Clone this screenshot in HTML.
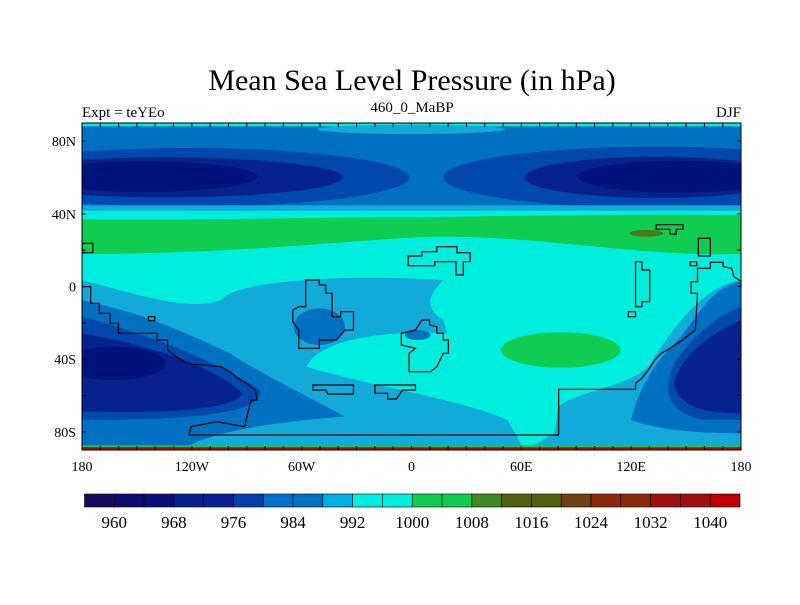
<!DOCTYPE html>
<html><head><meta charset="utf-8"><style>
body{margin:0;background:#fff}
svg text{font-family:"Liberation Serif",serif;fill:#000}
</style></head><body>
<svg id="chart" width="800" height="600" viewBox="0 0 800 600" xmlns="http://www.w3.org/2000/svg">
<text x="412" y="90" font-size="30" text-anchor="middle">Mean Sea Level Pressure (in hPa)</text>
<text x="82" y="117" font-size="15">Expt = teYEo</text>
<text x="412" y="112" font-size="15" text-anchor="middle">460_0_MaBP</text>
<text x="741" y="117" font-size="15" text-anchor="end">DJF</text>
<defs><clipPath id="mc"><rect x="5" y="68" width="1543" height="982"/></clipPath></defs>
<g transform="translate(80,100) scale(0.42735,0.33333)">
<g clip-path="url(#mc)">
<rect x="5" y="68" width="1543" height="982" fill="#0070c0"/>
<rect x="5" y="68" width="1543" height="11" fill="#00eedd"/>
<ellipse cx="775" cy="88" rx="220" ry="14" fill="#11aad9"/>
<ellipse cx="250" cy="232" rx="520" ry="88" fill="#0048ab"/>
<ellipse cx="1350" cy="232" rx="500" ry="92" fill="#0048ab"/>
<ellipse cx="200" cy="232" rx="415" ry="60" fill="#06228f"/>
<ellipse cx="1350" cy="232" rx="310" ry="62" fill="#06228f"/>
<ellipse cx="150" cy="230" rx="265" ry="46" fill="#00137c"/>
<ellipse cx="1400" cy="230" rx="235" ry="48" fill="#00137c"/>
<rect x="5" y="316" width="1543" height="34" fill="#11aad9"/>
<rect x="5" y="332" width="1543" height="720" fill="#00eedd"/>
<path d="M5,358 C300,362 600,350 800,352 C1100,345 1300,343 1548,345 L1548,462 C1300,470 1100,410 850,410 C700,410 400,462 5,462 Z" fill="#10cc50"/>
<ellipse cx="1325" cy="400" rx="40" ry="10" fill="#4a7a1a"/>
<path d="M5,540 C100,570 250,640 330,600 C360,545 600,520 850,540 C820,580 800,620 850,660 L860,700 C700,690 560,720 530,800 C650,850 900,900 1000,960 L1040,1050 L5,1050 Z" fill="#11aad9"/>
<path d="M1548,540 C1450,560 1380,700 1330,800 C1280,860 1150,880 1120,920 L1110,1000 C1080,1020 1060,1040 1040,1050 L1548,1050 Z" fill="#11aad9"/>
<path d="M5,600 C150,640 250,700 350,760 C450,840 550,900 620,950 C500,960 300,990 240,1050 L5,1050 Z" fill="#0070c0"/>
<path d="M1548,545 C1480,560 1450,640 1400,720 C1330,800 1300,900 1290,960 C1350,990 1450,1000 1548,1000 Z" fill="#0070c0"/>
<path d="M5,650 C150,700 300,770 420,870 C430,920 350,960 5,960 Z" fill="#0048ab"/>
<path d="M1548,620 C1480,650 1420,730 1390,790 C1360,880 1380,940 1460,960 L1548,960 Z" fill="#0048ab"/>
<path d="M5,700 C100,720 300,780 380,880 C360,930 200,940 5,935 Z" fill="#06228f"/>
<path d="M1548,660 C1470,700 1400,780 1390,850 C1400,920 1460,940 1548,940 Z" fill="#06228f"/>
<ellipse cx="80" cy="790" rx="120" ry="50" fill="#00137c"/>
<ellipse cx="560" cy="680" rx="60" ry="55" fill="#0070c0"/>
<ellipse cx="790" cy="705" rx="30" ry="15" fill="#0070c0"/>
<ellipse cx="1125" cy="750" rx="140" ry="53" fill="#10cc50"/>
<rect x="5" y="1036" width="1543" height="6" fill="#10cc50"/>
<rect x="5" y="1042" width="1543" height="10" fill="#c00000"/>
</g>
<g fill="none" stroke="#000" stroke-width="1.2" vector-effect="non-scaling-stroke">
<path vector-effect="non-scaling-stroke" d="M5,560 L25,560 L25,610 L45,610 L45,640 L70,640 L70,670 L90,670 L90,700 L180,700 L180,720 L205,720 L205,750 L225,770 L250,790 L330,800 L350,815 L370,835 L390,850 L410,870 L415,900 L400,900 L385,980 L320,965 L260,980 L255,1005 L1120,1005 L1120,868 L1300,868 L1300,850 L1315,835 L1330,810 L1345,780 L1360,760 L1380,745 L1410,720 L1440,690 L1445,580 L1430,580 L1430,545 L1445,545 L1445,505 L1475,505 L1475,487 L1505,487 L1505,500 L1525,505 L1530,530 L1548,545"/>
<path vector-effect="non-scaling-stroke" d="M528,540 L560,540 L560,555 L575,555 L575,580 L590,580 L590,650 L610,650 L610,635 L640,635 L640,690 L620,690 L600,720 L560,720 L560,745 L512,745 L512,690 L498,665 L498,630 L512,620 L528,620 Z"/>
<path vector-effect="non-scaling-stroke" d="M800,660 L818,660 L818,675 L835,680 L835,700 L850,700 L850,720 L862,720 L862,760 L850,760 L835,800 L820,815 L770,815 L770,760 L785,745 L752,735 L752,700 L785,690 Z"/>
<path vector-effect="non-scaling-stroke" d="M768,468 L800,468 L800,455 L835,455 L835,440 L882,440 L882,458 L913,458 L913,485 L897,485 L897,525 L880,525 L880,485 L830,485 L830,497 L768,497 Z"/>
<path vector-effect="non-scaling-stroke" d="M545,855 L640,855 L640,882 L580,882 L575,870 L545,870 Z"/>
<path vector-effect="non-scaling-stroke" d="M690,855 L785,855 L785,870 L755,870 L740,897 L720,897 L720,880 L690,880 Z"/>
<path vector-effect="non-scaling-stroke" d="M1300,485 L1315,485 L1315,510 L1333,510 L1333,605 L1315,605 L1315,620 L1300,620 Z"/>
<path vector-effect="non-scaling-stroke" d="M1283,635 L1300,635 L1300,650 L1283,650 Z M1447,415 L1475,415 L1475,468 L1447,468 Z M1428,485 L1443,485 L1443,497 L1428,497 Z M5,430 L30,430 L30,458 L5,458 Z M160,650 L175,650 L175,662 L160,662 Z"/>
<path vector-effect="non-scaling-stroke" d="M1348,374 L1411,374 L1411,388 L1395,388 L1395,402 L1380,402 L1380,388 L1348,388 Z"/>
</g>
</g>
<rect x="82" y="123" width="659" height="327" fill="none" stroke="#000" stroke-width="1"/>
<g id="axes"></g>
<g id="cbar"></g>
</svg>
<script>
const levels=[960,964,968,972,976,980,984,988,992,996,1000,1004,1008,1012,1016,1020,1024,1028,1032,1036,1040];
const colors=["#1c0a5e","#0c0c70","#0a0f78","#06208e","#082090","#0540a8","#0070c8","#0070c0","#00b0e0","#00eee0","#00eee0","#10cc50","#10cc50","#408820","#506010","#506010","#704010","#8a2a0a","#8a2a0a","#a01010","#a01010","#c00000"];
const lonTicks=[-180,-120,-60,0,60,120,180];
const lonLabels=["180","120W","60W","0","60E","120E","180"];
const latTicks=[80,40,0,-40,-80];
const latLabels=["80N","40N","0","40S","80S"];
const NS="http://www.w3.org/2000/svg";
const X=lon=>82+(lon+180)/360*659;
const Y=lat=>123+(90-lat)/180*327;
const ax=document.getElementById('axes');
function mk(t,a,p){const e=document.createElementNS(NS,t);for(const k in a)e.setAttribute(k,a[k]);p.appendChild(e);return e;}
for(let lon=-170;lon<180;lon+=10){
 const l=mk('line',{x1:X(lon),x2:X(lon),y1:450,y2:446,stroke:'#000'},ax);
 
 
 const l2=mk('line',{x1:X(lon),x2:X(lon),y1:123,y2:127,stroke:'#000'},ax);
 
 
}
for(let lat=-80;lat<=80;lat+=20){
 const l=mk('line',{x1:82,x2:86,y1:Y(lat),y2:Y(lat),stroke:'#000'},ax);
 
 
 const l2=mk('line',{x1:741,x2:737,y1:Y(lat),y2:Y(lat),stroke:'#000'},ax);
 
 
}
lonTicks.forEach((v,i)=>{const t=mk('text',{x:X(v),y:471,'font-size':14,'text-anchor':'middle'},ax);t.textContent=lonLabels[i];
 
 });
latTicks.forEach((v,i)=>{const t=mk('text',{x:76,y:Y(v)+5,'font-size':14,'text-anchor':'end'},ax);t.textContent=latLabels[i];
 
 });
const cb=document.getElementById('cbar');
const cx0=84.5,cx1=740,bw=(cx1-cx0)/colors.length;
colors.forEach((c,i)=>{const r=mk('rect',{x:cx0+i*bw,y:494,width:bw,height:13,fill:c,stroke:'#000','stroke-width':0.6},cb);
 
 });
levels.forEach((v,i)=>{if(i%2)return;const t=mk('text',{x:cx0+(i+1)*bw,y:528,'font-size':17,'text-anchor':'middle'},cb);t.textContent=v;
 
 });
</script>
</body></html>
